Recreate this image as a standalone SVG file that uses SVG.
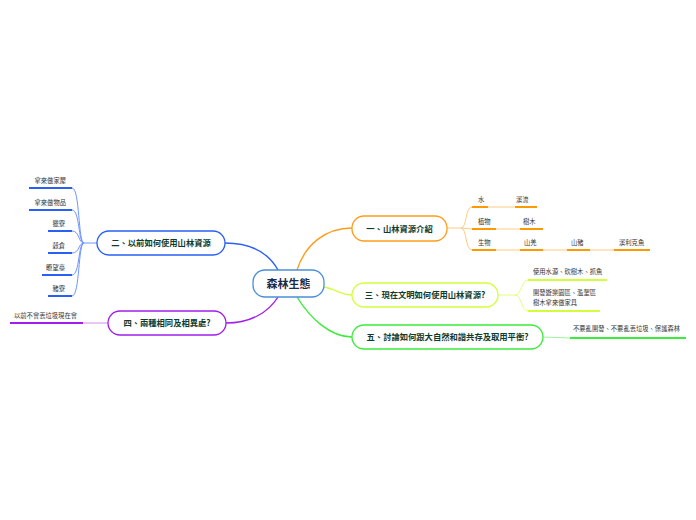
<svg xmlns="http://www.w3.org/2000/svg" width="696" height="520" viewBox="0 0 696 520">
<style>
.node{fill:#fff;stroke-width:1.3}
.t{font-family:"Noto Sans CJK TC","Noto Sans CJK SC",sans-serif;font-weight:bold;fill:#0f3b2c;font-size:8.3px}
.c{font-family:"Noto Sans CJK TC","Noto Sans CJK SC",sans-serif;font-weight:bold;fill:#1b2a4a;font-size:11px}
.l{font-family:"Noto Sans CJK TC","Noto Sans CJK SC",sans-serif;fill:#333;font-size:6.3px}
.br{fill:none;stroke-width:1.4}
.u{fill:none;stroke-width:2}
.f{fill:none;stroke-width:1}
</style>
<rect width="696" height="520" fill="#fff"/>
<g id="connectors">
  <!-- main branches -->
  <path class="br" stroke="#FF9D1A" d="M297,270 C305,245 325,228 352,228"/>
  <path class="br" stroke="#2A5FF5" d="M278,270 C268,252 250,243 225,243"/>
  <path class="br" stroke="#D2FF3C" d="M324,287 C335,289 342,295 352,295"/>
  <path class="br" stroke="#A01EEB" d="M278,297 C268,313 250,323 226,323"/>
  <path class="br" stroke="#3CEB3C" d="M297,297 C310,318 330,337 352,337"/>
  <!-- branch 1 leaves -->
  <path class="f" stroke="#FFCC80" d="M447,228 L461,228 M461,228 C467,228 465,207 472,207 M461,228 L472,229 M461,228 C467,228 465,250 472,250 M488,207 L515,207 M496,229 L520,229 M496,250 L520,250 M543,250 L567,250 M590,250 L614,250"/>
  <path class="u" stroke="#FF9900" d="M472,207 L488,207 M515,207 L537,207 M472,229 L496,229 M520,229 L543,229 M472,250 L496,250 M520,250 L543,250 M567,250 L590,250 M614,250 L650,250"/>
  <!-- branch 2 leaves -->
  <path class="f" stroke="#6E95FF" d="M97,243 L84,243 M84,243 C78,243 80,188 72,188 M84,243 C78,243 80,210 72,210 M84,243 C78,243 80,231 72,231 M84,243 C78,243 80,253 72,253 M84,243 C78,243 80,275 72,275 M84,243 C78,243 80,296 72,296"/>
  <path class="u" stroke="#2A5FF5" d="M29,188 L72,188 M29,210 L72,210 M48,231 L72,231 M48,253 L72,253 M42,275 L72,275 M48,296 L72,296"/>
  <!-- branch 3 leaves -->
  <path class="f" stroke="#E0FF80" d="M497,295 L515,295 M515,295 C522,295 521,280 528,280 M515,295 C522,295 521,311 528,311"/>
  <path class="u" stroke="#D2FF3C" d="M528,280 L607,280 M528,311 L600,311"/>
  <!-- branch 4 leaf -->
  <path class="f" stroke="#CF8CF5" d="M83,323 L108,323"/>
  <path class="u" stroke="#A01EEB" d="M10,323 L83,323"/>
  <!-- branch 5 leaf -->
  <path class="f" stroke="#9CF59C" d="M543,337 L570,338"/>
  <path class="u" stroke="#3CEB3C" d="M570,338 L686,338"/>
</g>
<g id="center">
  <rect class="node" x="253" y="270" width="71" height="27" rx="12" stroke="#4A90D9"/>
  <text class="c" x="288.5" y="287.5" text-anchor="middle">森林生態</text>
</g>
<g id="n1">
  <rect class="node" x="352" y="216" width="95" height="25" rx="12" stroke="#FF9D1A"/>
  <text class="t" x="399.5" y="231.5" text-anchor="middle">一、山林資源介紹</text>
</g>
<g id="n2">
  <rect class="node" x="97" y="231" width="128" height="24" rx="12" stroke="#2A5FF5"/>
  <text class="t" x="161" y="246" text-anchor="middle">二、以前如何使用山林資源</text>
</g>
<g id="n3">
  <rect class="node" x="352" y="283" width="146" height="24" rx="12" stroke="#D2FF3C"/>
  <text class="t" x="425" y="298" text-anchor="middle">三、現在文明如何使用山林資源?</text>
</g>
<g id="n4">
  <rect class="node" x="108" y="311" width="118" height="24" rx="12" stroke="#A01EEB"/>
  <text class="t" x="167" y="326" text-anchor="middle">四、兩種相同及相異處?</text>
</g>
<g id="n5">
  <rect class="node" x="352" y="325" width="191" height="24" rx="12" stroke="#3CEB3C"/>
  <text class="t" x="447.5" y="340" text-anchor="middle">五、討論如何跟大自然和諧共存及取用平衡?</text>
</g>
<g id="leaves1">
  <text class="l" x="478" y="202">水</text>
  <text class="l" x="516" y="202">溪流</text>
  <text class="l" x="478" y="224">植物</text>
  <text class="l" x="523" y="224">樹木</text>
  <text class="l" x="478" y="245">生物</text>
  <text class="l" x="524" y="245">山羌</text>
  <text class="l" x="571" y="245">山豬</text>
  <text class="l" x="619" y="245">溪利克魚</text>
</g>
<g id="leaves2">
  <text class="l" x="66" y="183" text-anchor="end">拿來做家屋</text>
  <text class="l" x="66" y="205" text-anchor="end">拿來做物品</text>
  <text class="l" x="65" y="226" text-anchor="end">獵寮</text>
  <text class="l" x="65" y="248" text-anchor="end">穀倉</text>
  <text class="l" x="65" y="270" text-anchor="end">瞭望臺</text>
  <text class="l" x="65" y="291" text-anchor="end">豬寮</text>
</g>
<g id="leaves3">
  <text class="l" x="533" y="274">使用水源、砍樹木、抓魚</text>
  <text class="l" x="533" y="295">開發遊樂園區、濫墾區</text>
  <text class="l" x="533" y="305">樹木拿來做家具</text>
</g>
<g id="leaves4">
  <text class="l" x="14" y="318">以前不會丟垃圾現在會</text>
</g>
<g id="leaves5">
  <text class="l" x="573" y="331">不要亂開發、不要亂丟垃圾、保護森林</text>
</g>
</svg>
